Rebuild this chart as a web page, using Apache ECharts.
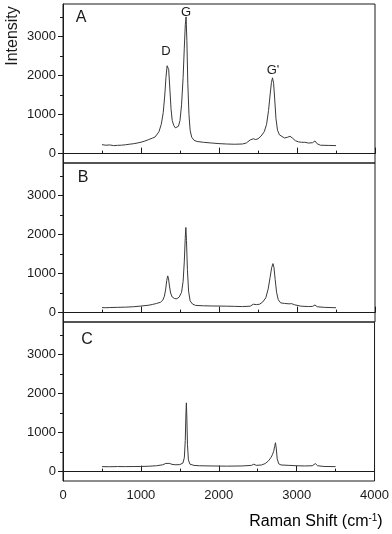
<!DOCTYPE html>
<html>
<head>
<meta charset="utf-8">
<script src="https://cdn.jsdelivr.net/npm/echarts@6/dist/echarts.min.js"></script>
<style>
html, body { margin: 0; padding: 0; background: #fff; }
#chart { width: 392px; height: 534px; }
</style>
</head>
<body>
<div id="chart"></div>
<script>
// Raman spectra, [shift (cm-1), intensity]
const spectrumA = [
    [500, 230], [550, 215], [600, 222], [650, 205], [700, 212], [750, 216], [800, 226], [850, 240],
    [900, 252], [950, 270], [1000, 292], [1050, 322], [1100, 360], [1150, 400], [1180, 425], [1200, 470],
    [1230, 560], [1260, 750], [1285, 1050], [1305, 1500], [1320, 1950], [1335, 2250], [1345, 2300],
    [1355, 2150], [1370, 1650], [1385, 1150], [1400, 850], [1420, 720], [1440, 660], [1460, 650],
    [1480, 700], [1500, 850], [1520, 1250], [1540, 1950], [1555, 2700], [1568, 3300], [1578, 3500],
    [1588, 2900], [1600, 1800], [1615, 1000], [1630, 600], [1650, 420], [1680, 340], [1720, 310],
    [1800, 290], [1900, 272], [2000, 256], [2100, 246], [2200, 240], [2300, 246], [2350, 272],
    [2400, 350], [2420, 400], [2440, 380], [2470, 360], [2500, 380], [2540, 450], [2580, 560],
    [2610, 750], [2635, 1100], [2655, 1500], [2672, 1820], [2686, 1940], [2700, 1800], [2714, 1400],
    [2730, 900], [2750, 600], [2775, 480], [2800, 430], [2840, 400], [2880, 420], [2910, 445],
    [2940, 400], [2980, 330], [3020, 300], [3060, 290], [3080, 330], [3100, 290], [3150, 270],
    [3200, 280], [3230, 325], [3260, 250], [3300, 215], [3400, 210], [3500, 205]
];
const spectrumB = [
    [500, 128], [550, 125], [600, 130], [700, 135], [800, 140], [900, 150], [1000, 168], [1100, 190],
    [1150, 210], [1200, 235], [1250, 265], [1280, 320], [1300, 420], [1315, 580], [1330, 820],
    [1342, 940], [1352, 880], [1365, 680], [1380, 500], [1400, 400], [1430, 360], [1460, 355],
    [1490, 400], [1520, 520], [1540, 800], [1555, 1300], [1567, 1900], [1575, 2180], [1583, 1850],
    [1595, 1100], [1610, 550], [1630, 300], [1660, 220], [1700, 185], [1800, 175], [1900, 170],
    [2000, 168], [2100, 165], [2200, 160], [2300, 155], [2400, 165], [2440, 215], [2455, 230],
    [2480, 205], [2520, 215], [2560, 270], [2600, 380], [2630, 600], [2655, 900], [2675, 1150],
    [2692, 1255], [2705, 1150], [2720, 850], [2738, 520], [2760, 330], [2790, 250], [2840, 235],
    [2900, 225], [2930, 230], [2970, 200], [3050, 165], [3150, 155], [3200, 160], [3230, 195],
    [3260, 150], [3350, 135], [3500, 125]
];
const spectrumC = [
    [500, 128], [600, 125], [700, 130], [800, 128], [900, 130], [1000, 132], [1100, 138], [1200, 150],
    [1280, 175], [1320, 210], [1345, 235], [1370, 210], [1400, 185], [1450, 175], [1500, 180],
    [1540, 220], [1558, 360], [1570, 800], [1578, 1450], [1584, 1760], [1590, 1400], [1598, 700],
    [1610, 300], [1630, 190], [1680, 160], [1750, 150], [1900, 145], [2100, 140], [2300, 145],
    [2420, 160], [2450, 190], [2480, 160], [2550, 170], [2600, 210], [2640, 280], [2670, 360],
    [2688, 430], [2705, 520], [2718, 650], [2728, 740], [2738, 600], [2750, 330], [2770, 200],
    [2800, 170], [2900, 160], [3000, 150], [3100, 145], [3200, 150], [3240, 205], [3255, 215],
    [3270, 150], [3350, 132], [3500, 128]
];
const panelNames = ['A', 'B', 'C'];
const intensityTicks = [0, 1000, 2000, 3000];
const intensityMinorTicks = [500, 1500, 2500, 3500];

const font = '"Liberation Sans", Arial, sans-serif';
const ink = '#1a1a1a';
const spectra = [spectrumA, spectrumB, spectrumC];
const panelTop = [4, 163, 322];
const panelHeight = 159;

const chart = echarts.init(document.getElementById('chart'));
const grid = [], xAxis = [], yAxis = [], series = [];
const plain = function (v) { return String(v); };

spectra.forEach(function (data, i) {
    grid.push({
        left: 63, right: 17, top: panelTop[i], height: panelHeight,
        show: true, borderColor: ink, borderWidth: 1, containLabel: false
    });
    xAxis.push({
        type: 'value', gridIndex: i, min: 0, max: 4000, interval: 1000,
        axisLine: { show: true, lineStyle: { color: ink, width: 1 } },
        axisTick: { show: true, inside: true, length: 6, lineStyle: { color: ink, width: 1 } },
        minorTick: { show: true, splitNumber: 2, length: 3, lineStyle: { color: ink, width: 1 } },
        splitLine: { show: false },
        axisLabel: { show: i === 2, margin: 8, color: ink, fontSize: 13, fontFamily: font, formatter: plain }
    });
    // major ticks + labels
    yAxis.push({
        type: 'value', gridIndex: i, min: -240, max: 3830, position: 'left',
        axisLine: { show: true, lineStyle: { color: ink, width: 1 } },
        axisTick: { show: true, length: 5, customValues: intensityTicks, lineStyle: { color: ink, width: 1 } },
        splitLine: { show: false },
        axisLabel: { show: true, margin: 7, color: ink, fontSize: 13, fontFamily: font, customValues: intensityTicks, formatter: plain }
    });
    // minor ticks
    yAxis.push({
        type: 'value', gridIndex: i, min: -240, max: 3830, position: 'left', offset: 0,
        axisLine: { show: false },
        axisTick: { show: true, length: 3, customValues: intensityMinorTicks, lineStyle: { color: ink, width: 1 } },
        splitLine: { show: false },
        axisLabel: { show: false }
    });
    series.push({
        type: 'line', xAxisIndex: i, yAxisIndex: i * 2, data: data,
        showSymbol: false, symbol: 'none', silent: true,
        lineStyle: { color: '#3a3a3a', width: 1 }
    });
});

function label(text, x, y, size) {
    return {
        type: 'text', x: x, y: y, silent: true,
        style: { text: text, font: size + 'px ' + font, fill: ink, align: 'center', verticalAlign: 'middle' }
    };
}

chart.setOption({
    animation: false,
    backgroundColor: '#fff',
    grid: grid,
    xAxis: xAxis,
    yAxis: yAxis,
    series: series,
    graphic: [
        label(panelNames[0], 81, 18, 16),
        label(panelNames[1], 83, 178, 16),
        label(panelNames[2], 87, 340, 16),
        label('D', 166, 51, 13),
        label('G', 186, 12, 13),
        label("G'", 273, 70, 13),
        {
            type: 'text', x: 13, y: 36, rotation: Math.PI / 2, silent: true,
            style: { text: 'Intensity', font: '16px ' + font, fill: ink, align: 'center', verticalAlign: 'middle' }
        },
        {
            type: 'text', x: 316, y: 522, silent: true,
            style: {
                text: '{a|Raman Shift (cm}{s|-1}{a|)}',
                align: 'center', verticalAlign: 'middle',
                rich: {
                    a: { fontSize: 16, fontFamily: font, color: ink, lineHeight: 18 },
                    s: { fontSize: 10, fontFamily: font, color: ink, verticalAlign: 'top', lineHeight: 18 }
                }
            }
        }
    ]
});
</script>
</body>
</html>
